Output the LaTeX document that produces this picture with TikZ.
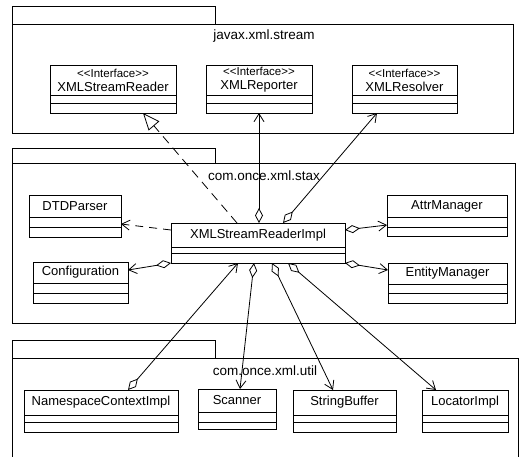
\documentclass[tikz,border=0pt]{standalone}
\usepackage{fontspec}
\newfontfamily\umlfont{Liberation Sans}
\usetikzlibrary{arrows.meta}
\tikzset{
  x=1pt, y=-1pt,
  cls/.style={draw, line width=1pt, inner sep=0pt, outer sep=0pt},
  frm/.style={draw, line width=1pt, inner sep=0pt, outer sep=0pt},
  lbl/.style={inner sep=0pt, font=\umlfont\fontsize{13}{14}\selectfont},
  ilbl/.style={inner sep=0pt, align=center, font=\umlfont\fontsize{13}{14}\selectfont},
  pkglbl/.style={inner sep=0pt, font=\umlfont\fontsize{13.5}{15}\selectfont},
  agg/.style={line width=0.8pt, {Diamond[open,length=15pt,width=8pt]}-{Straight Barb[length=8pt,width=10pt]}},
  dep/.style={line width=0.8pt, dash pattern=on 8pt off 6pt, -{Straight Barb[length=8pt,width=10pt]}},
  real/.style={line width=0.8pt, dash pattern=on 9pt off 6pt, -{Triangle[open,length=17pt,width=14pt]}},
}
\newcommand\umlclass[8]{%
  \node[cls, anchor=north west, minimum width={(#4-#2)*1pt}, minimum height={(#5-#3)*1pt}] (#1) at (#2,#3) {};
  \draw[line width=1pt] (#2,#6) -- (#4,#6) (#2,#7) -- (#4,#7);
  \node[lbl] (#1t) at ({(#2+#4)/2},{(#3+#6)/2}) {#8};}
\newcommand\umliface[8]{%
  \node[cls, anchor=north west, minimum width={(#4-#2)*1pt}, minimum height={(#5-#3)*1pt}] (#1) at (#2,#3) {};
  \draw[line width=1pt] (#2,#6) -- (#4,#6) (#2,#7) -- (#4,#7);
  \node[ilbl] (#1t) at ({(#2+#4)/2},{(#3+#6)/2}) {{\fontsize{11.5}{13}\selectfont <<Interface>>}\\#8};}
\begin{document}
\begin{tikzpicture}
\useasboundingbox (0,0) rectangle (532,456);
% packages
\node[frm, anchor=north west, minimum width=203pt, minimum height=18pt] (p1tab) at (12,6) {};
\node[frm, anchor=north west, minimum width=501pt, minimum height=109pt] (p1) at (12,24) {};
\node[pkglbl] (p1l) at (264,36) {javax.xml.stream};
\node[frm, anchor=north west, minimum width=203pt, minimum height=15pt] (p2tab) at (12,148) {};
\node[frm, anchor=north west, minimum width=503pt, minimum height=160pt] (p2) at (12,163) {};
\node[pkglbl] (p2l) at (264,176) {com.once.xml.stax};
\node[frm, anchor=north west, minimum width=203pt, minimum height=18pt] (p3tab) at (12,340) {};
\node[frm, anchor=north west, minimum width=506pt, minimum height=120pt] (p3) at (12,358) {};
\node[pkglbl] (p3l) at (265,371) {com.once.xml.util};
% classes
\umliface{xsr}{50}{65}{176}{113}{95}{103}{XMLStreamReader}
\umliface{rep}{206}{65}{312}{113}{95}{103}{XMLReporter}
\umliface{res}{352}{65}{457}{113}{95}{103}{XMLResolver}
\umlclass{dtd}{29}{195}{121}{237}{217}{227}{DTDParser}
\umlclass{cfg}{33}{262}{128}{303}{283}{293}{Configuration}
\umlclass{impl}{171}{223}{345}{263}{247}{253}{XMLStreamReaderImpl}
\umlclass{attr}{387}{195}{507}{236}{217}{227}{AttrManager}
\umlclass{ent}{388}{263}{507}{303}{284}{293}{EntityManager}
\umlclass{ns}{24}{390}{178}{432}{415}{422}{NamespaceContextImpl}
\umlclass{scan}{198}{389}{276}{429}{412}{422}{Scanner}
\umlclass{sb}{293}{390}{396}{432}{415}{422}{StringBuffer}
\umlclass{loc}{422}{390}{508}{432}{415}{422}{LocatorImpl}
% connectors
\draw[real] ([xshift=66pt]impl.north west) -- ([xshift=93pt]xsr.south west);
\draw[agg] ([xshift=88pt]impl.north west) -- (rep.south);
\draw[agg] ([xshift=112pt]impl.north west) -- ([xshift=25pt]res.south west);
\draw[dep] ([yshift=-7pt]impl.north west) -- ([yshift=-29pt]dtd.north east);
\draw[agg] (impl.south west) -- ([yshift=-8pt]cfg.north east);
\draw[agg] ([yshift=-7pt]impl.north east) -- ([yshift=-30pt]attr.north west);
\draw[agg] (impl.south east) -- ([yshift=-7pt]ent.north west);
\draw[agg] ([xshift=104pt]ns.north west) -- ([xshift=67pt]impl.south west);
\draw[agg] ([xshift=83pt]impl.south west) -- ([xshift=42pt]scan.north west);
\draw[agg] ([xshift=101pt]impl.south west) -- ([xshift=40pt]sb.north west);
\draw[agg] ([xshift=117pt]impl.south west) -- ([xshift=14pt]loc.north west);
\end{tikzpicture}
\end{document}
